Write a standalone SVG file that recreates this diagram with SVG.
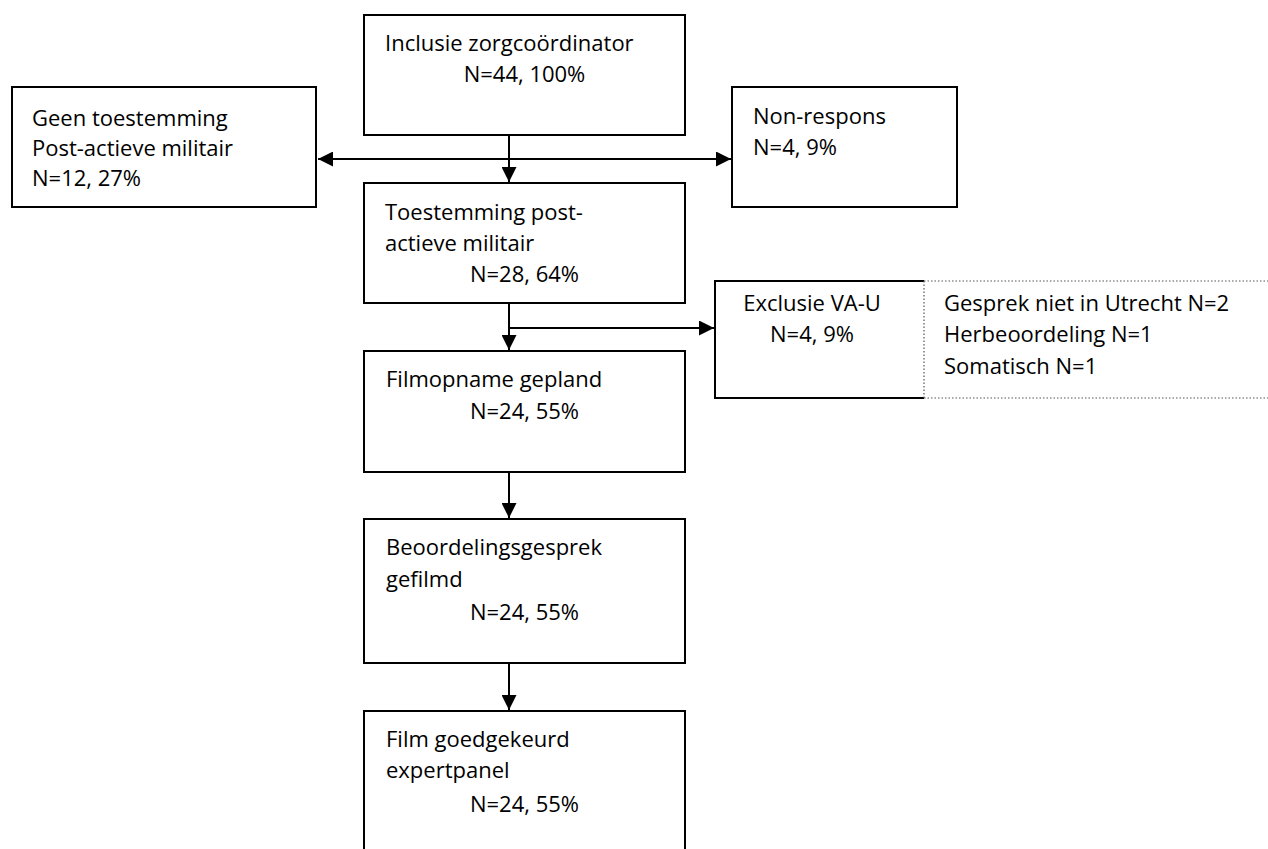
<svg xmlns="http://www.w3.org/2000/svg" width="1268" height="849" viewBox="0 0 1268 849">
<style>
  .box { fill: #ffffff; stroke: #000000; stroke-width: 2; }
  .t { font-family: "Open Sans", "Liberation Sans", sans-serif; font-size: 22px; fill: #000000; }
  .c { text-anchor: middle; }
  .conn { stroke: #000000; stroke-width: 2; fill: none; }
  .dot { stroke: #555555; stroke-width: 1.2; stroke-dasharray: 1.5 2; fill: none; }
</style>
<defs>
  <marker id="arr" viewBox="0 0 10 10" refX="10" refY="5" markerWidth="7.5" markerHeight="7.5" markerUnits="strokeWidth" orient="auto">
    <path d="M0,0 L10,5 L0,10 Z" fill="#000000"/>
  </marker>
</defs>
<rect width="1268" height="849" fill="#ffffff"/>

<g id="connectors">
  <line class="conn" x1="509" y1="135" x2="509" y2="182" marker-end="url(#arr)"/>
  <line class="conn" x1="509" y1="159" x2="318" y2="159" marker-end="url(#arr)"/>
  <line class="conn" x1="509" y1="159" x2="731" y2="159" marker-end="url(#arr)"/>
  <line class="conn" x1="509" y1="303" x2="509" y2="350" marker-end="url(#arr)"/>
  <line class="conn" x1="509" y1="328" x2="714" y2="328" marker-end="url(#arr)"/>
  <line class="conn" x1="509" y1="472" x2="509" y2="518" marker-end="url(#arr)"/>
  <line class="conn" x1="509" y1="663" x2="509" y2="710" marker-end="url(#arr)"/>
</g>

<g id="inclusie">
  <rect class="box" x="364" y="15" width="321" height="120"/>
  <text class="t" x="385" y="51">Inclusie zorgcoördinator</text>
  <text class="t c" x="524.5" y="82">N=44, 100%</text>
</g>

<g id="geen-toestemming">
  <rect class="box" x="12" y="87" width="304" height="120"/>
  <text class="t" x="32" y="126">Geen toestemming</text>
  <text class="t" x="32" y="156">Post-actieve militair</text>
  <text class="t" x="32" y="186">N=12, 27%</text>
</g>

<g id="non-respons">
  <rect class="box" x="732" y="87" width="225" height="120"/>
  <text class="t" x="753" y="124">Non-respons</text>
  <text class="t" x="753" y="155">N=4, 9%</text>
</g>

<g id="toestemming">
  <rect class="box" x="364" y="183" width="321" height="120"/>
  <text class="t" x="385" y="220">Toestemming post-</text>
  <text class="t" x="385" y="251">actieve militair</text>
  <text class="t c" x="524.5" y="282">N=28, 64%</text>
</g>

<g id="exclusie">
  <path class="box" d="M924,281 L715,281 L715,398 L924,398"/>
  <path class="dot" d="M924,281 L1268,281 M924,281 L924,398 M924,398 L1268,398"/>
  <text class="t c" x="812" y="311">Exclusie VA-U</text>
  <text class="t c" x="812" y="342">N=4, 9%</text>
  <text class="t" x="944" y="311">Gesprek niet in Utrecht N=2</text>
  <text class="t" x="944" y="342">Herbeoordeling N=1</text>
  <text class="t" x="944" y="374">Somatisch N=1</text>
</g>

<g id="filmopname">
  <rect class="box" x="364" y="351" width="321" height="121"/>
  <text class="t" x="386" y="387">Filmopname gepland</text>
  <text class="t c" x="524.5" y="419">N=24, 55%</text>
</g>

<g id="beoordeling">
  <rect class="box" x="364" y="519" width="321" height="144"/>
  <text class="t" x="386" y="555">Beoordelingsgesprek</text>
  <text class="t" x="386" y="587">gefilmd</text>
  <text class="t c" x="524.5" y="620">N=24, 55%</text>
</g>

<g id="film-goedgekeurd">
  <rect class="box" x="364" y="711" width="321" height="150"/>
  <text class="t" x="386" y="747">Film goedgekeurd</text>
  <text class="t" x="386" y="778">expertpanel</text>
  <text class="t c" x="524.5" y="812">N=24, 55%</text>
</g>
</svg>
